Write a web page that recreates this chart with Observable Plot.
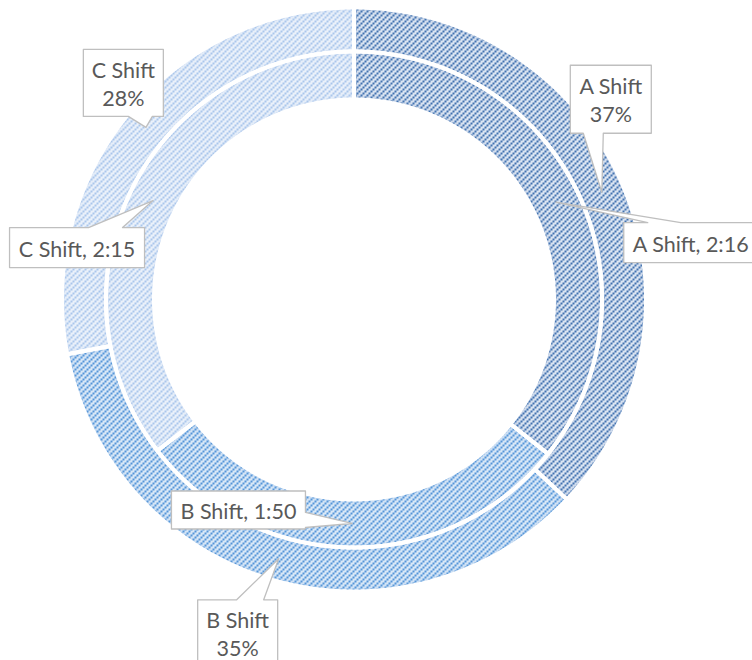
<!DOCTYPE html>
<html><head><meta charset="utf-8">
<script src="https://cdn.jsdelivr.net/npm/d3@7"></script>
<script src="https://cdn.jsdelivr.net/npm/@observablehq/plot@0.6"></script>
<style>
body{margin:0;background:#fff}
#chart{width:752px;height:660px;overflow:hidden;position:relative}
#chart svg{display:block}
</style>
</head><body><div id="chart"></div>
<script>
// ---- data ----
const shifts = ["A Shift", "B Shift", "C Shift"];
const sharePct = [37, 35, 28];                 // outer ring (% share)
const durationLabels = ["2:16", "1:50", "2:15"]; // inner ring (h:mm)
const durationMinutes = [136, 110, 135];       // inner ring values in minutes

// ---- layout / style ----
const W = 752, H = 660, CX = 353.5, CY = 299;
const OUTER = {r0: 248, r1: 292};
const INNER = {r0: 200, r1: 248};
const patIds = ["patA", "patB", "patC"];
const outerCallouts = [
  {dx: 9, dy: -93, w: 81, h: 68, side: "bottom", b0: -27.5, b1: -7.5},
  {dx: -41, dy: 74.5, w: 80, h: 67, side: "top", b0: -1, b1: 26},
  {dx: -22.6, dy: -44.5, w: 80, h: 67, side: "bottom", b0: 5, b1: 29}
];
const innerCallouts = [
  {dx: 135, dy: 40.5, w: 134, h: 40, side: "top", b0: -43, b1: -10},
  {dx: -113.7, dy: -13.5, w: 134, h: 38, side: "right", b0: 2.5, b1: 17.5},
  {dx: -76, dy: 47, w: 135, h: 40, side: "top", b0: 11.5, b1: 45.5}
];

function pt(f, r) {
  const a = 2 * Math.PI * f;
  return [CX + r * Math.sin(a), CY - r * Math.cos(a)];
}
function arcPoly(f0, f1, r0, r1) {
  const pts = [];
  const n = Math.max(8, Math.ceil((f1 - f0) * 720));
  for (let i = 0; i <= n; i++) pts.push(pt(f0 + (f1 - f0) * i / n, r1));
  for (let i = n; i >= 0; i--) pts.push(pt(f0 + (f1 - f0) * i / n, r0));
  return pts;
}
function calloutPoly(tx, ty, c) {
  const x = tx + c.dx, y = ty + c.dy;
  const l = x - c.w / 2, r = x + c.w / 2, t = y - c.h / 2, b = y + c.h / 2;
  const pts = [[l, t]];
  if (c.side === "top") pts.push([x + c.b0, t], [tx, ty], [x + c.b1, t]);
  pts.push([r, t]);
  if (c.side === "right") pts.push([r, y + c.b0], [tx, ty], [r, y + c.b1]);
  pts.push([r, b]);
  if (c.side === "bottom") pts.push([x + c.b1, b], [tx, ty], [x + c.b0, b]);
  pts.push([l, b]);
  return {pts, cx: x, cy: y};
}

const segRows = [], calloutRows = [], labelRows = [];
const rings = [
  {name: "outer", geom: OUTER, values: sharePct, callouts: outerCallouts,
   label: (i) => `${shifts[i]}\n${sharePct[i]}%`},
  {name: "inner", geom: INNER, values: durationMinutes, callouts: innerCallouts,
   label: (i) => `${shifts[i]}, ${durationLabels[i]}`}
];
for (const ring of rings) {
  const total = d3.sum(ring.values);
  let cum = 0;
  ring.values.forEach((v, i) => {
    const f0 = cum / total, f1 = (cum + v) / total;
    cum += v;
    const id = ring.name + i;
    for (const [x, y] of arcPoly(f0, f1, ring.geom.r0, ring.geom.r1))
      segRows.push({seg: id, x, y, fill: `url(#${patIds[i]})`});
    const [tx, ty] = pt((f0 + f1) / 2, (ring.geom.r0 + ring.geom.r1) / 2);
    const co = calloutPoly(tx, ty, ring.callouts[i]);
    for (const [x, y] of co.pts) calloutRows.push({id, x, y});
    labelRows.push({x: co.cx, y: co.cy, text: ring.label(i)});
  });
}

const svg = Plot.plot({
  width: W, height: H, margin: 0,
  x: {domain: [0, W], range: [0, W], axis: null},
  y: {domain: [0, H], range: [0, H], axis: null},
  color: {type: "identity"},
  marks: [
    Plot.line(segRows, {x: "x", y: "y", z: "seg", fill: "fill", stroke: "none", curve: "linear-closed"}),
    Plot.line(segRows, {x: "x", y: "y", z: "seg", fill: "none", stroke: "white", strokeWidth: 4, curve: "linear-closed"}),
    Plot.line(calloutRows, {x: "x", y: "y", z: "id", fill: "white", stroke: "#bfbfbf", strokeWidth: 1.3, curve: "linear-closed"}),
    Plot.text(labelRows, {x: "x", y: "y", text: "text", fill: "#595959", fontSize: 21.5, fontFamily: "Lato", lineHeight: 1.31})
  ]
});

const pats = [
  {id: "A", bg: "#dbe5f2", fg: "#4272b0", sh: "#5a86bf"},
  {id: "B", bg: "#d9e8f7", fg: "#5595d8", sh: "#6aa3df"},
  {id: "C", bg: "#eaf1fa", fg: "#aac6ec", sh: "#b5cdee"}
];
const defs = d3.select(svg).insert("defs", ":first-child");
for (const p of pats) {
  const pat = defs.append("pattern").attr("id", "pat" + p.id)
    .attr("patternUnits", "userSpaceOnUse").attr("width", 6).attr("height", 6);
  pat.append("rect").attr("width", 6).attr("height", 6).attr("fill", p.bg);
  for (const [x, y] of [[4, 0], [2, 2], [0, 4]])
    pat.append("rect").attr("x", x).attr("y", y).attr("width", 2).attr("height", 2)
      .attr("fill", p.fg).attr("shape-rendering", "crispEdges");
  const f = defs.append("filter").attr("id", "shade" + p.id)
    .attr("x", "-5%").attr("y", "-5%").attr("width", "110%").attr("height", "110%");
  f.append("feGaussianBlur").attr("in", "SourceAlpha").attr("stdDeviation", 5).attr("result", "b");
  f.append("feComposite").attr("in", "SourceAlpha").attr("in2", "b").attr("operator", "out").attr("result", "edge");
  f.append("feFlood").attr("flood-color", p.sh).attr("flood-opacity", 0.6);
  f.append("feComposite").attr("in2", "edge").attr("operator", "in").attr("result", "sh");
  const m = f.append("feMerge");
  m.append("feMergeNode").attr("in", "SourceGraphic");
  m.append("feMergeNode").attr("in", "sh");
}
d3.select(svg).selectAll("path").each(function () {
  const fl = this.getAttribute("fill");
  if (fl && fl.startsWith("url(#pat")) this.setAttribute("filter", fl.replace("pat", "shade"));
});
document.getElementById("chart").appendChild(svg);
</script>
</body></html>
